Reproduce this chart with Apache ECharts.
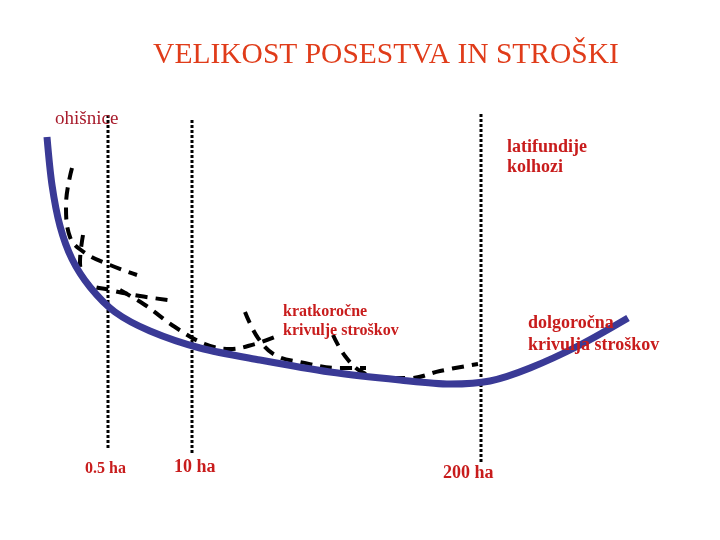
<!DOCTYPE html>
<html>
<head>
<meta charset="utf-8">
<script src="https://cdn.jsdelivr.net/npm/echarts@6/dist/echarts.min.js"></script>
<style>
  html, body { margin: 0; padding: 0; background: #fff; }
  #chart { width: 720px; height: 540px; }
</style>
</head>
<body>
<div id="chart"></div>
<script>
// values (size on x, cost on y, y grows downward)
const longRunX = [47, 52, 60, 72, 90, 115, 150, 200, 260, 330, 400, 450, 490, 530, 580, 628]
const longRunY = [137, 185, 226, 259, 287, 312, 331, 348, 360, 372, 380, 384, 381, 368, 345, 318]

const short1X = [72, 66, 70, 85, 110, 137]
const short1Y = [168, 205, 237, 253, 265, 275]
const short2X = [83, 80, 88, 110, 140, 168]
const short2Y = [235, 262, 283, 290, 296, 300]
const short3X = [120, 145, 175, 205, 230, 255, 275]
const short3Y = [290, 305, 327, 344, 349, 344, 337]
const short4X = [245, 258, 275, 300, 340, 366]
const short4Y = [312, 338, 355, 362, 368, 368]
const short5X = [333, 345, 362, 385, 410, 440, 478]
const short5Y = [335, 356, 372, 378, 378, 371, 364]

const sizeLines = [108, 192, 481]
const sizeTop = [115, 120, 114]
const sizeBottom = [449, 455, 463]
const sizeLabels = ['0.5 ha', '10 ha', '200 ha']

const zip = (xs, ys) => xs.map((x, i) => [x, ys[i]])

const serif = '"Liberation Serif", "Times New Roman", serif'
const red = '#c81c1c'

const dashed = (xs, ys) => ({
  type: 'line',
  data: zip(xs, ys),
  smooth: 0.4,
  symbol: 'none',
  lineStyle: { color: '#000', width: 4, type: [12, 8], cap: 'butt' },
  z: 3
})

const dotted = sizeLines.map((x, i) => ({
  type: 'line',
  data: [[x, sizeTop[i]], [x, sizeBottom[i]]],
  symbol: 'none',
  lineStyle: { color: '#000', width: 3, type: [3, 2], cap: 'butt' },
  z: 2
}))

const chart = echarts.init(document.getElementById('chart'))

const label = (text, x, y, size, weight, color) => ({
  type: 'text',
  style: {
    text: text,
    x: x,
    y: y,
    font: weight + ' ' + size + 'px ' + serif,
    fill: color,
    textVerticalAlign: 'middle'
  },
  z: 10
})

chart.setOption({
  animation: false,
  title: {
    text: 'VELIKOST POSESTVA IN STROŠKI',
    left: 381,
    top: 35,
    textAlign: 'center',
    textStyle: {
      fontFamily: serif,
      fontSize: 29.5,
      fontWeight: 'normal',
      color: '#e03c1a',
      textShadowColor: '#a8a8a8',
      textShadowOffsetX: 2,
      textShadowOffsetY: 2,
      textShadowBlur: 0
    }
  },
  grid: { left: 0, top: 0, width: 720, height: 540 },
  xAxis: { type: 'value', min: 0, max: 720, show: false },
  yAxis: { type: 'value', min: 0, max: 540, inverse: true, show: false },
  series: [
    ...dotted,
    {
      type: 'line',
      data: zip(longRunX, longRunY),
      smooth: 0.3,
      symbol: 'none',
      lineStyle: { color: '#3a3a96', width: 7 },
      z: 4
    },
    dashed(short1X, short1Y),
    dashed(short2X, short2Y),
    dashed(short3X, short3Y),
    dashed(short4X, short4Y),
    dashed(short5X, short5Y)
  ],
  graphic: [
    label('ohišnice', 55, 119, 19, 'normal', '#a81c2c'),
    label('latifundije', 507, 147, 18, 'bold', red),
    label('kolhozi', 507, 167, 18, 'bold', red),
    label('kratkoročne', 283, 312, 16, 'bold', red),
    label('krivulje stroškov', 283, 331, 16, 'bold', red),
    label('dolgoročna', 528, 323, 18, 'bold', red),
    label('krivulja stroškov', 528, 345, 18, 'bold', red),
    label(sizeLabels[0], 85, 469, 16, 'bold', red),
    label(sizeLabels[1], 174, 467, 18, 'bold', red),
    label(sizeLabels[2], 443, 473, 18, 'bold', red)
  ]
})
</script>
</body>
</html>
